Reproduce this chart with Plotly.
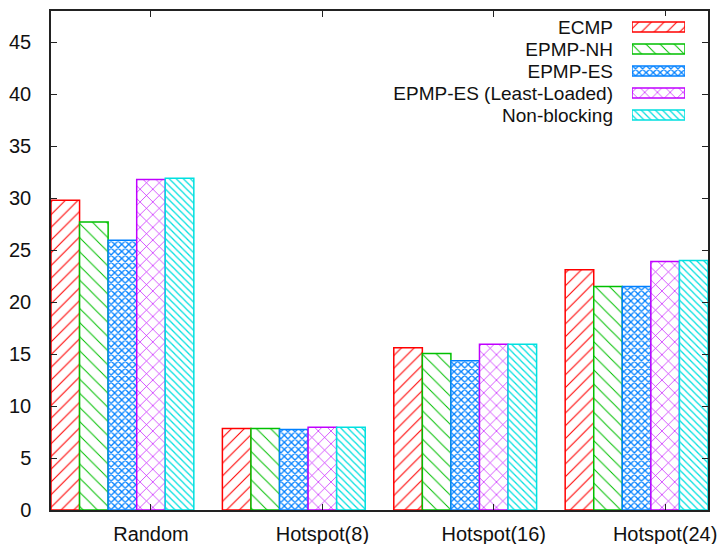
import plotly.graph_objects as go

categories = ["Random", "Hotspot(8)", "Hotspot(16)", "Hotspot(24)"]
series_names = ["ECMP", "EPMP-NH", "EPMP-ES", "EPMP-ES (Least-Loaded)", "Non-blocking"]
ecmp = [29.8, 7.85, 15.6, 23.1]
epmp_nh = [27.7, 7.85, 15.05, 21.5]
epmp_es = [25.95, 7.75, 14.35, 21.5]
epmp_ll = [31.8, 7.95, 15.95, 23.9]
nonblocking = [31.9, 7.95, 15.95, 24.0]
y_ticks = [0, 5, 10, 15, 20, 25, 30, 35, 40, 45]

series_values = [ecmp, epmp_nh, epmp_es, epmp_ll, nonblocking]
colors = ["#ff0000", "#00c000", "#0080ff", "#c000ff", "#00e0e0"]
patterns = [
    dict(shape="/", size=9, solidity=0.12),
    dict(shape="\\", size=10, solidity=0.1),
    dict(shape="x", size=5, solidity=0.45),
    dict(shape="x", size=9, solidity=0.14),
    dict(shape="\\", size=5, solidity=0.25),
]

FONT = "Liberation Sans, Arial, sans-serif"
n = len(series_names)
bw = 1.0 / (n + 1)
xs = list(range(len(categories)))

fig = go.Figure()
for k, (name, vals) in enumerate(zip(series_names, series_values)):
    pat = dict(patterns[k], fgcolor=colors[k], bgcolor="white", fillmode="replace")
    fig.add_trace(go.Bar(
        x=xs, y=vals, name=name, width=bw, offset=-n * bw / 2 + k * bw,
        marker=dict(color="white", pattern=pat, line=dict(color=colors[k], width=1.5)),
        showlegend=False, xaxis="x", yaxis="y",
    ))
    # legend swatch (drawn on an auxiliary axis so text sits left of the swatch)
    fig.add_trace(go.Bar(
        y=[name], x=[1], base=0, orientation="h", width=0.45,
        marker=dict(color="white", pattern=pat, line=dict(color=colors[k], width=1.5)),
        showlegend=False, xaxis="x2", yaxis="y2", hoverinfo="skip",
    ))

axis_col = "#222222"
fig.update_layout(
    width=724, height=544,
    margin=dict(l=51, r=16, t=11, b=34),
    paper_bgcolor="white", plot_bgcolor="white",
    barmode="overlay", showlegend=False,
    font=dict(family=FONT, size=20, color="#111111"),
    xaxis=dict(
        range=[-n * bw / 2, len(categories) - 1 + n * bw / 2],
        tickmode="array", tickvals=[x + bw for x in xs], ticktext=categories,
        showline=True, linecolor=axis_col, linewidth=1.5, mirror="ticks",
        ticks="inside", ticklen=6, tickcolor=axis_col, tickwidth=1.2,
        showgrid=False, zeroline=False, ticklabelstandoff=5, automargin=False,
    ),
    yaxis=dict(
        range=[0, 48], tickmode="array", tickvals=y_ticks,
        showline=True, linecolor=axis_col, linewidth=1.5, mirror="ticks",
        ticks="inside", ticklen=6, tickcolor=axis_col, tickwidth=1.2,
        showgrid=False, zeroline=False, ticklabelstandoff=14, automargin=False,
    ),
    xaxis2=dict(domain=[0.8843, 0.965], anchor="y2", range=[0, 1], visible=False, fixedrange=True),
    yaxis2=dict(
        domain=[0.7695, 0.99], anchor="x2", type="category",
        categoryorder="array", categoryarray=series_names[::-1],
        tickmode="array", tickvals=series_names, ticktext=series_names,
        showline=False, ticks="", showgrid=False, zeroline=False,
        ticklabelstandoff=18, tickfont=dict(size=19), fixedrange=True, automargin=False,
    ),
)

fig.write_html("out.html")
